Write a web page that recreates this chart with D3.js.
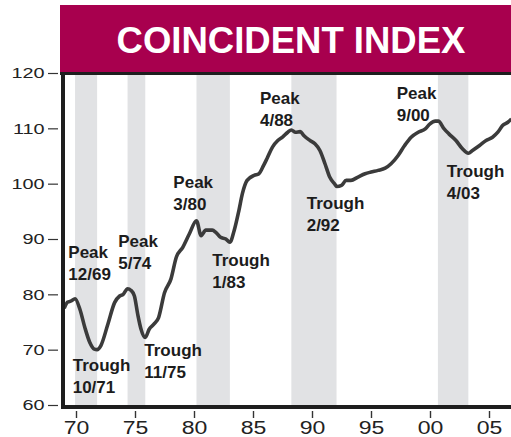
<!DOCTYPE html>
<html>
<head>
<meta charset="utf-8">
<script src="https://cdn.jsdelivr.net/npm/d3@7"></script>
<style>
  body { margin: 0; background: #fff; }
  svg { display: block; font-family: 'Liberation Sans', Arial, sans-serif; }
</style>
</head>
<body>
<div id="chart"></div>
<script>
// coincident index, [decimal year, value]
const index = [
  [1969.0, 77.5], [1969.3, 78.6], [1969.6, 78.8], [1969.92, 79.2],
  [1970.33, 77.3], [1970.75, 74.0], [1971.17, 71.3], [1971.55, 70.1],
  [1971.79, 70.0], [1972.1, 70.7], [1972.7, 74.6], [1973.27, 78.5],
  [1973.7, 79.7], [1974.0, 80.0], [1974.37, 81.0], [1974.67, 80.7],
  [1974.95, 79.7], [1975.23, 76.4], [1975.5, 73.8], [1975.87, 72.2],
  [1976.2, 73.7], [1976.6, 74.6], [1977.0, 75.8], [1977.5, 80.3],
  [1978.05, 82.8], [1978.5, 86.7], [1979.05, 88.5], [1979.6, 90.9],
  [1980.21, 93.3], [1980.6, 90.6], [1981.0, 91.6], [1981.55, 91.6],
  [1981.85, 91.2], [1982.25, 90.3], [1982.7, 90.0], [1983.04, 89.4],
  [1983.4, 91.5], [1983.8, 95.1], [1984.1, 98.2], [1984.5, 100.6],
  [1985.1, 101.5], [1985.5, 101.8], [1985.9, 103.3], [1986.2, 104.6],
  [1986.65, 106.6], [1987.1, 107.8], [1987.5, 108.4], [1987.95, 109.3],
  [1988.25, 109.7], [1988.6, 109.3], [1989.0, 109.4], [1989.3, 108.7],
  [1989.83, 107.8], [1990.25, 107.2], [1990.67, 106.0], [1991.1, 103.6],
  [1991.5, 101.2], [1991.9, 100.0], [1992.1, 99.5], [1992.5, 99.7],
  [1992.9, 100.6], [1993.3, 100.6], [1993.9, 101.2], [1994.5, 101.8],
  [1995.0, 102.1], [1995.6, 102.4], [1996.2, 102.8], [1996.7, 103.6],
  [1997.3, 105.1], [1997.85, 106.9], [1998.4, 108.4], [1999.0, 109.3],
  [1999.6, 109.9], [2000.0, 110.8], [2000.45, 111.3], [2000.7, 111.3],
  [2001.2, 109.9], [2001.6, 109.0], [2002.2, 107.8], [2002.75, 106.3],
  [2003.25, 105.5], [2003.6, 106.0], [2004.2, 106.9], [2004.75, 107.8],
  [2005.3, 108.4], [2005.75, 109.3], [2006.15, 110.5], [2006.6, 111.1],
  [2006.9, 111.7]
]

// peak-to-trough periods shaded
const recessions = [
  [1969.92, 1971.79], [1974.37, 1975.87], [1980.21, 1983.04],
  [1988.25, 1992.08], [2000.67, 2003.25]
]

// labels: [first line, second line, year, value] at the text's top-left
const notes = [
  ['Peak', '12/69', 1969.35, 88.7],
  ['Trough', '10/71', 1969.72, 68.3],
  ['Peak', '5/74', 1973.58, 90.8],
  ['Trough', '11/75', 1975.79, 71.0],
  ['Peak', '3/80', 1978.25, 101.4],
  ['Trough', '1/83', 1981.55, 87.4],
  ['Peak', '4/88', 1985.59, 116.6],
  ['Trough', '2/92', 1989.55, 97.6],
  ['Peak', '9/00', 1997.18, 117.6],
  ['Trough', '4/03', 2001.42, 103.4]
]

const yTicks = [60, 70, 80, 90, 100, 110, 120]
const xTicks = [1970, 1975, 1980, 1985, 1990, 1995, 2000, 2005]
const xTickLabels = ['70', '75', '80', '85', '90', '95', '00', '05']
const title = 'COINCIDENT INDEX'

const width = 511
const height = 437

const svg = d3.select('#chart').append('svg')
  .attr('width', width)
  .attr('height', height)

const xScale = d3.scaleLinear().domain([1970, 2005]).range([76, 489])
const yScale = d3.scaleLinear().domain([60, 120]).range([405, 73])

// title band
svg.append('rect')
  .attr('x', 60).attr('y', 5)
  .attr('width', width - 60).attr('height', 67)
  .attr('fill', '#a8004e')
svg.append('text')
  .attr('x', 291).attr('y', 53)
  .attr('text-anchor', 'middle')
  .attr('fill', '#fff')
  .attr('font-weight', 'bold')
  .attr('font-size', 36.5)
  .text(title)

// shaded periods
svg.append('g')
  .selectAll('rect')
  .data(recessions)
  .join('rect')
  .attr('x', d => xScale(d[0]))
  .attr('y', 75)
  .attr('width', d => xScale(d[1]) - xScale(d[0]))
  .attr('height', yScale(60) - 75)
  .attr('fill', '#e1e2e4')

// index line
const line = d3.line()
  .x(d => xScale(d[0]))
  .y(d => yScale(d[1]))
  .curve(d3.curveMonotoneX)

svg.append('path')
  .datum(index)
  .attr('d', line)
  .attr('fill', 'none')
  .attr('stroke', '#3b3b3b')
  .attr('stroke-width', 3.6)
  .attr('stroke-linejoin', 'round')

// frame
svg.append('line')
  .attr('x1', 60).attr('x2', width)
  .attr('y1', 73.5).attr('y2', 73.5)
  .attr('stroke', '#1e1e1e').attr('stroke-width', 3)
svg.append('line')
  .attr('x1', 63).attr('x2', 63)
  .attr('y1', 72).attr('y2', 409)
  .attr('stroke', '#1e1e1e').attr('stroke-width', 4)
svg.append('line')
  .attr('x1', 61).attr('x2', width)
  .attr('y1', 407).attr('y2', 407)
  .attr('stroke', '#1e1e1e').attr('stroke-width', 4)

// y axis
const yAxis = svg.append('g')
  .attr('transform', 'translate(58,0)')
  .call(d3.axisLeft(yScale).tickValues(yTicks).tickSize(10).tickPadding(4))
yAxis.select('.domain').remove()
yAxis.selectAll('.tick line').attr('stroke', '#333').attr('stroke-width', 1.2)
yAxis.selectAll('.tick text')
  .attr('font-family', "'Liberation Sans', Arial, sans-serif")
  .attr('font-size', 15.5)
  .attr('fill', '#222')
  .attr('x', -13.5 / 1.28)
  .attr('transform', 'scale(1.28,1)')

// x axis
const xAxis = svg.append('g')
  .attr('transform', 'translate(0,411)')
  .call(d3.axisBottom(xScale).tickValues(xTicks).tickSize(7).tickPadding(3)
    .tickFormat((d, i) => xTickLabels[i]))
xAxis.select('.domain').remove()
xAxis.selectAll('.tick line').attr('stroke', '#333').attr('stroke-width', 1.4)
xAxis.selectAll('.tick text')
  .attr('font-family', "'Liberation Sans', Arial, sans-serif")
  .attr('font-size', 18)
  .attr('fill', '#222')
  .attr('transform', 'scale(1.28,1)')

// peak / trough notes
const noteG = svg.append('g')
  .attr('font-weight', 'bold')
  .attr('font-size', 17)
  .attr('fill', '#1c1c1c')
notes.forEach(n => {
  const t = noteG.append('text')
    .attr('x', xScale(n[2]))
    .attr('y', yScale(n[3]) + 12.3)
  t.append('tspan').attr('x', xScale(n[2])).text(n[0])
  t.append('tspan').attr('x', xScale(n[2])).attr('dy', 22).text(n[1])
})
</script>
</body>
</html>
